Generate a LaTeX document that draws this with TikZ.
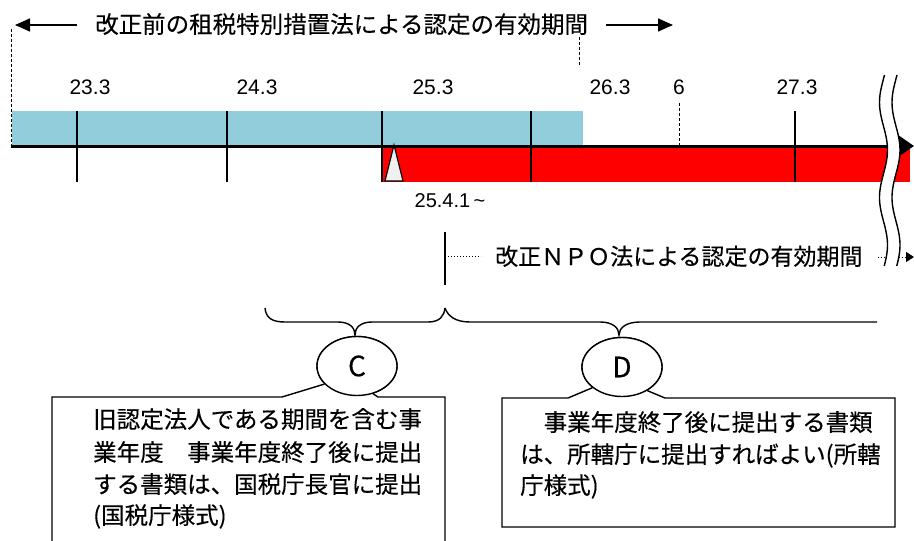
\documentclass[tikz,border=0pt]{standalone}
\usepackage{fontspec}
\setmainfont{Noto Sans CJK JP}[FakeBold=0.3]
\newfontfamily\numfont{Liberation Sans}
\usetikzlibrary{arrows.meta,shapes.geometric}
\definecolor{barblue}{HTML}{92CDDC}
\definecolor{trigray}{HTML}{F0F0F0}
\tikzset{
  jp/.style={font=\fontsize{23.5}{28}\selectfont, inner sep=0pt, text height=20pt, text depth=4pt, anchor=west},
  num/.style={font=\numfont\fontsize{21}{24}\selectfont, inner sep=0pt},
  tick/.style={line width=2pt},
  dashtick/.style={line width=1pt, dash pattern=on 3pt off 2pt},
  arr/.style={line width=1.5pt, -{Triangle[length=15pt,width=13pt]}},
  brace/.style={line width=1.4pt},
  boxline/.style={line width=1.4pt, fill=white},
  tag/.style={ellipse, draw, line width=1.4pt, fill=white, minimum width=80pt, minimum height=59pt, inner sep=0pt, font=\fontsize{28}{30}\selectfont},
  wave/.style={line width=1.4pt}
}
\begin{document}
\begin{tikzpicture}[x=1pt,y=-1pt]
\useasboundingbox (0,0) rectangle (914,541);

% top title and arrows
\node[jp] (title) at (95,25) {改正前の租税特別措置法による認定の有効期間};
\coordinate (la0) at (77,25); \coordinate (la1) at (15,25);
\coordinate (ra0) at (606,25); \coordinate (ra1) at (673,25);
\draw[arr] (la0) -- (la1);
\draw[arr] (ra0) -- (ra1);
\coordinate (dl0) at (11,29); \coordinate (dl1) at (11,146);
\draw[dashtick] (dl0) -- (dl1);
\coordinate (dr0) at (579,37); \coordinate (dr1) at (579,65);
\draw[dashtick] (dr0) -- (dr1);

% year labels
\node[num] (y23) at (90,87) {23.3};
\node[num] (y24) at (257,87) {24.3};
\node[num] (y25) at (433,87) {25.3};
\node[num] (y26) at (610,87) {26.3};
\node[num] (m6) at (679,87) {6};
\node[num] (y27) at (797,87) {27.3};

% bars
\fill[barblue] (12,111) rectangle (583,145);
\fill[red] (382,147) rectangle (910,182);

% axis
\coordinate (ax0) at (11,146); \coordinate (ax1) at (914,146);
\draw[line width=3pt, -{Triangle[length=15pt,width=20pt]}] (ax0) -- (ax1);

% ticks
\foreach \x in {77,227,382,531,795} \draw[tick] (\x,111) -- (\x,182);
\coordinate (t6a) at (679,103); \coordinate (t6b) at (679,146);
\draw[dashtick] (t6a) -- (t6b);

% start marker
\draw[fill=trigray, line width=1.2pt] (394,145) -- (385,181) -- (403,181) -- cycle;
\node[num, font=\numfont\fontsize{20}{24}\selectfont] (start) at (450,201) {25.4.1\,\textasciitilde};

% new NPO law period
\coordinate (v0) at (445,232); \coordinate (v1) at (445,285);
\draw[line width=1.6pt] (v0) -- (v1);
\coordinate (dt0) at (448,256); \coordinate (dt1) at (481,256);
\draw[dotted, line width=1pt] (dt0) -- (dt1);
\node[jp, font=\fontsize{23}{28}\selectfont] (npo) at (495,257) {改正ＮＰＯ法による認定の有効期間};
\coordinate (da0) at (878,257); \coordinate (da1) at (914,257);
\draw[dotted, line width=1pt, -{Triangle[length=8pt,width=10pt]}] (da0) -- (da1);

% break marks
\fill[white] plot[smooth, domain=75:266, samples=50, variable=\t] ({883.5+4*cos(3.79*(\t-150))}, \t)
  -- plot[smooth, domain=266:75, samples=50, variable=\t] ({896+4*cos(3.79*(\t-150))}, \t) -- cycle;
\draw[wave] plot[smooth, domain=75:266, samples=50, variable=\t] ({883.5+4*cos(3.79*(\t-150))}, \t);
\draw[wave] plot[smooth, domain=75:266, samples=50, variable=\t] ({896+4*cos(3.79*(\t-150))}, \t);

% braces
\draw[brace] (265,308) .. controls (266,318) and (272,322) .. (285,322) -- (338,322)
  .. controls (350,322) and (355,328) .. (355,335)
  .. controls (355,328) and (360,322) .. (372,322) -- (428,322)
  .. controls (440,322) and (444,316) .. (445,308);
\draw[brace] (445,308) .. controls (448,316) and (455,322) .. (470,322) -- (600,322)
  .. controls (613,322) and (619,328) .. (619,335)
  .. controls (619,328) and (626,322) .. (640,322) -- (877,322);

% callout C
\node[tag] (C) at (357,366) {C};
\draw[boxline] (C.209) -- (282,397) -- (52,397) -- (52,560) -- (445,560) -- (445,397) -- (378,397) -- (C.300);
\node[tag] at (C) {C};
\node[jp] (c1) at (93,420) {旧認定法人である期間を含む事};
\node[jp] (c2) at (93,453) {業年度　事業年度終了後に提出};
\node[jp] (c3) at (93,485) {する書類は、国税庁長官に提出};
\node[jp] (c4) at (93,516) {(国税庁様式)};

% callout D
\node[tag] (D) at (622,367) {D};
\draw[boxline] (D.215) -- (568,398) -- (502,398) -- (502,527) -- (895,527) -- (895,398) -- (665,398) -- (D.317);
\node[tag] at (D) {D};
\node[jp] (d1) at (520,423) {　事業年度終了後に提出する書類};
\node[jp] (d2) at (520,455) {は、所轄庁に提出すればよい(所轄};
\node[jp] (d3) at (520,486) {庁様式)};
\end{tikzpicture}
\end{document}
